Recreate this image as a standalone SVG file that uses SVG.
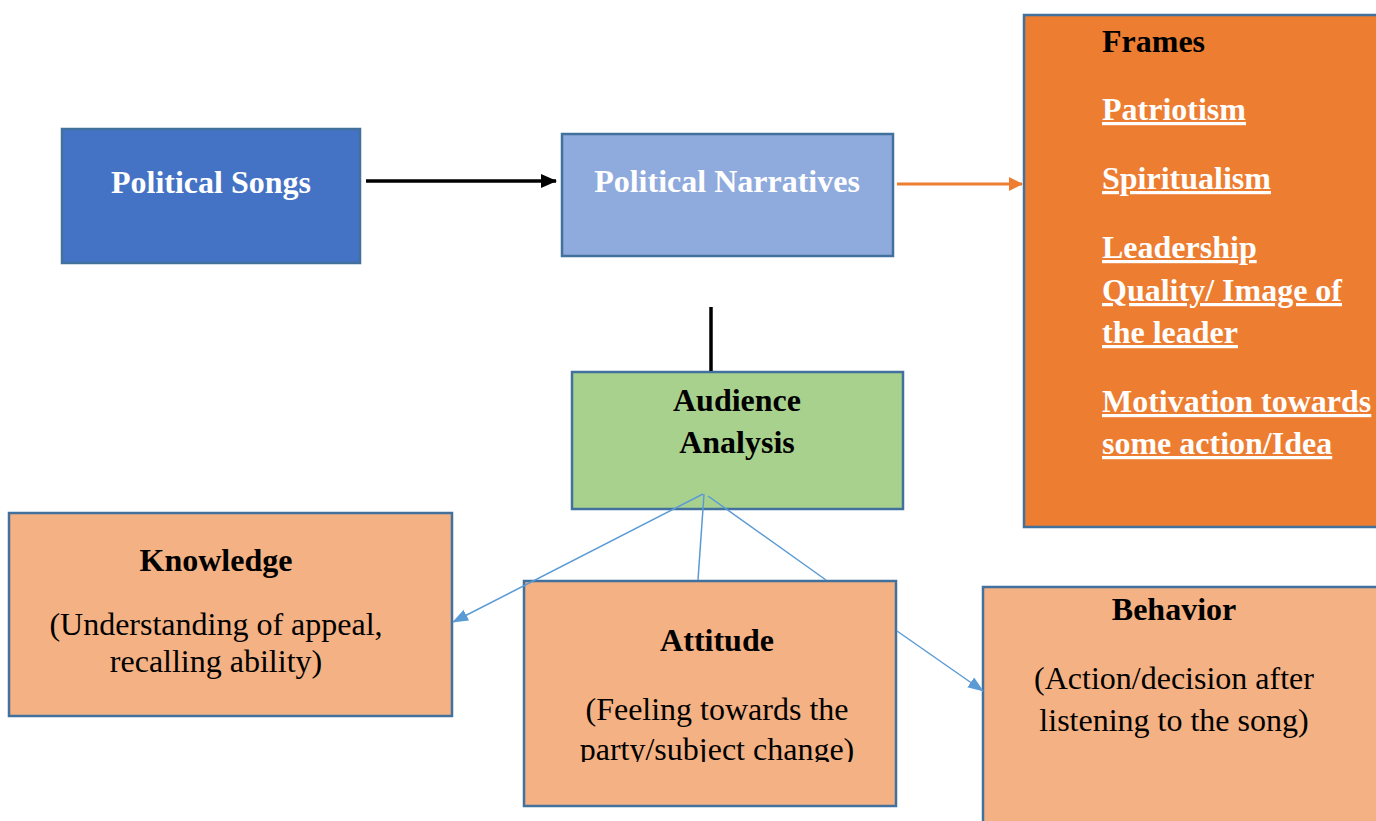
<svg xmlns="http://www.w3.org/2000/svg" width="1376" height="821" viewBox="0 0 1376 821">
<style>
text{font-family:"Liberation Serif","Times New Roman",serif;font-size:32px}
.b{font-weight:bold}
.w{fill:#FFFFFF}
.k{fill:#000000}
.u{text-decoration:underline}
.box{stroke:#41719C;stroke-width:2.5}
</style>
<defs>
<marker id="ab" markerWidth="16" markerHeight="16" refX="15" refY="8" orient="auto" markerUnits="userSpaceOnUse"><path d="M0,1 L16,8 L0,15 z" fill="#000"/></marker>
<marker id="ao" markerWidth="14" markerHeight="14" refX="13" refY="7" orient="auto" markerUnits="userSpaceOnUse"><path d="M0,0 L14,7 L0,14 z" fill="#ED7D31"/></marker>
<marker id="al" markerWidth="16" markerHeight="12" refX="15" refY="6" orient="auto" markerUnits="userSpaceOnUse"><path d="M0,0 L16,6 L0,12 z" fill="#5B9BD5"/></marker>
<clipPath id="cl"><rect x="524" y="581" width="372" height="181"/></clipPath>
</defs>
<rect width="1376" height="821" fill="#FFFFFF"/>
<g id="political-songs">
<rect class="box" x="62" y="129" width="298" height="134" fill="#4472C4" stroke="#2F528F"/>
<text class="b w" x="211" y="193" text-anchor="middle">Political Songs</text>
</g>
<g id="political-narratives">
<rect class="box" x="562" y="134" width="331" height="122" fill="#8FAADC"/>
<text class="b w" x="727" y="192" text-anchor="middle">Political Narratives</text>
</g>
<g id="frames">
<rect class="box" x="1024" y="15" width="360" height="512" fill="#ED7D31"/>
<text class="b k" font-size="31" x="1102" y="52">Frames</text>
<g class="b w u">
<text x="1102" y="120">Patriotism</text>
<text x="1102" y="189">Spiritualism</text>
<text x="1102" y="258">Leadership</text>
<text x="1102" y="301">Quality/ Image of</text>
<text x="1102" y="343">the leader</text>
<text x="1102" y="412">Motivation towards</text>
<text x="1102" y="454">some action/Idea</text>
</g>
</g>
<g id="audience-analysis">
<rect class="box" x="572" y="372" width="331" height="137" fill="#A9D18E"/>
<text class="b k" x="737" y="411" text-anchor="middle">Audience</text>
<text class="b k" x="737" y="453" text-anchor="middle">Analysis</text>
</g>
<g id="knowledge">
<rect class="box" x="9" y="513" width="443" height="203" fill="#F4B183"/>
<text class="b k" x="216" y="571" text-anchor="middle">Knowledge</text>
<text class="k" x="216" y="635" text-anchor="middle">(Understanding of appeal,</text>
<text class="k" x="216" y="672" text-anchor="middle">recalling ability)</text>
</g>
<g id="attitude">
<rect class="box" x="524" y="581" width="372" height="225" fill="#F4B183"/>
<text class="b k" x="717" y="651" text-anchor="middle">Attitude</text>
<text class="k" x="717" y="720" text-anchor="middle">(Feeling towards the</text>
<text class="k" x="717" y="760" text-anchor="middle" clip-path="url(#cl)">party/subject change)</text>
</g>
<g id="behavior">
<rect class="box" x="983" y="587" width="400" height="240" fill="#F4B183"/>
<text class="b k" x="1174" y="620" text-anchor="middle">Behavior</text>
<text class="k" x="1174" y="689" text-anchor="middle">(Action/decision after</text>
<text class="k" x="1174" y="731" text-anchor="middle">listening to the song)</text>
</g>
<g id="connectors">
<line x1="366" y1="181" x2="556" y2="181" stroke="#000" stroke-width="3.5" marker-end="url(#ab)"/>
<line x1="897" y1="184" x2="1022" y2="184" stroke="#ED7D31" stroke-width="3" marker-end="url(#ao)"/>
<line x1="711" y1="307" x2="711" y2="371" stroke="#000" stroke-width="3.5"/>
<line x1="703" y1="494" x2="453" y2="622" stroke="#5B9BD5" stroke-width="1.5" marker-end="url(#al)"/>
<line x1="704" y1="494" x2="698" y2="580" stroke="#5B9BD5" stroke-width="1.5"/>
<line x1="708" y1="496" x2="826" y2="580" stroke="#5B9BD5" stroke-width="1.5"/>
<line x1="897" y1="631" x2="983" y2="691" stroke="#5B9BD5" stroke-width="1.5" marker-end="url(#al)"/>
</g>
</svg>
